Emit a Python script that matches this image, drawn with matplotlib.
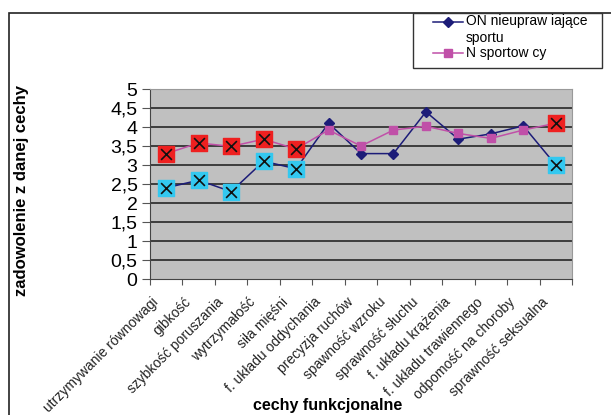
import matplotlib.pyplot as plt
from matplotlib.patches import Rectangle
from matplotlib.lines import Line2D

plt.rcParams['font.family'] = ['Liberation Sans', 'DejaVu Sans']

categories = ['utrzymywanie równowagi', 'gibkość', 'szybkość poruszania', 'wytrzymałość',
              'siła mięśni', 'f. układu oddychania', 'precyzja ruchów', 'spawność wzroku',
              'sprawność słuchu', 'f. układu krążenia', 'f. układu trawiennego',
              'odpomość na choroby', 'sprawność seksualna']
on_values = [2.4, 2.6, 2.3, 3.1, 2.9, 4.1, 3.3, 3.3, 4.4, 3.68, 3.82, 4.03, 3.0]
n_values = [3.3, 3.58, 3.49, 3.68, 3.42, 3.92, 3.5, 3.92, 4.02, 3.83, 3.7, 3.92, 4.1]
highlight = [0, 1, 2, 3, 4, 12]
yticks = [0, 0.5, 1, 1.5, 2, 2.5, 3, 3.5, 4, 4.5, 5]
ytick_labels = ['0', '0,5', '1', '1,5', '2', '2,5', '3', '3,5', '4', '4,5', '5']
series_names = ['ON nieupraw iające\nsportu', 'N sportow cy']

on_color = '#1c1c78'
n_color = '#c050a8'

fig = plt.figure(figsize=(6.11, 4.15), dpi=100)
W, H = 611, 415
ax = fig.add_axes([150 / W, 1 - 279 / H, 422 / W, 190 / H])
ax.set_facecolor('#c0c0c0')

x = list(range(len(categories)))
ax.plot(x, on_values, color=on_color, marker='D', markersize=5, lw=1.1, zorder=3)
ax.plot(x, n_values, color=n_color, marker='s', markersize=5.5, lw=1.1, zorder=3)

# highlighted points
hx = [x[i] for i in highlight]
ax.scatter(hx, [n_values[i] for i in highlight], marker='s', s=120, color='#ee2020', zorder=4)
ax.scatter(hx, [on_values[i] for i in highlight], marker='s', s=120, color='#33c8f0', zorder=4)
ax.scatter(hx, [n_values[i] for i in highlight], marker='x', s=60, color='#111111', lw=1.2, zorder=5)
ax.scatter(hx, [on_values[i] for i in highlight], marker='x', s=60, color='#111111', lw=1.2, zorder=5)

ax.set_xlim(-0.5, len(categories) - 0.5)
ax.set_ylim(0, 5)
ax.set_yticks(yticks)
ax.set_yticklabels(ytick_labels, fontsize=14)
for y in yticks[1:-1]:
    ax.axhline(y, color='#1a1a1a', lw=1.1, zorder=1)
ax.set_xticks([i - 0.5 for i in range(len(categories) + 1)])
ax.set_xticklabels([])
for i, name in enumerate(categories):
    ax.annotate(name, xy=(i, 0), xycoords=('data', 'axes fraction'),
                xytext=(-10.8, -11.5), textcoords='offset points', rotation=45,
                ha='right', va='top', rotation_mode='anchor', fontsize=10,
                color='#222222', annotation_clip=False)
ax.tick_params(axis='x', which='major', length=4, direction='out', color='#555555')
ax.tick_params(axis='y', length=6, direction='out', color='#555555', pad=3)
for s in ['top', 'right']:
    ax.spines[s].set_color('#999999')
for s in ['left', 'bottom']:
    ax.spines[s].set_color('#444444')

fig.text(328 / W, 1 - 405 / H, 'cechy funkcjonalne', fontsize=11.5, fontweight='bold',
         ha='center', va='center')
fig.text(22 / W, 1 - 190 / H, 'zadowolenie z danej cechy', rotation=90, fontsize=12,
         fontweight='bold', ha='center', va='center')

# outer frame
fig.patches.append(Rectangle((9 / W, -0.1), 1.2, 1 - 13 / H + 0.1, transform=fig.transFigure,
                             fill=False, edgecolor='#222222', lw=1.2))

# legend box
fig.patches.append(Rectangle((413 / W, 1 - 68 / H), 189 / W, 55 / H, transform=fig.transFigure,
                             facecolor='white', edgecolor='#333333', lw=1.0))
fig.add_artist(Line2D([433 / W, 463 / W], [1 - 22 / H, 1 - 22 / H], transform=fig.transFigure,
                      color=on_color, lw=1.1))
fig.add_artist(Line2D([448 / W], [1 - 22 / H], transform=fig.transFigure,
                      color=on_color, marker='D', markersize=5, lw=0))
fig.add_artist(Line2D([433 / W, 463 / W], [1 - 53 / H, 1 - 53 / H], transform=fig.transFigure,
                      color=n_color, lw=1.1))
fig.add_artist(Line2D([448 / W], [1 - 53 / H], transform=fig.transFigure,
                      color=n_color, marker='s', markersize=5.5, lw=0))
fig.text(466 / W, 1 - 14 / H, series_names[0], fontsize=10, va='top', ha='left',
         linespacing=1.25)
fig.text(466 / W, 1 - 53 / H, series_names[1], fontsize=10, va='center', ha='left')

fig.savefig('out.png', dpi=100)
